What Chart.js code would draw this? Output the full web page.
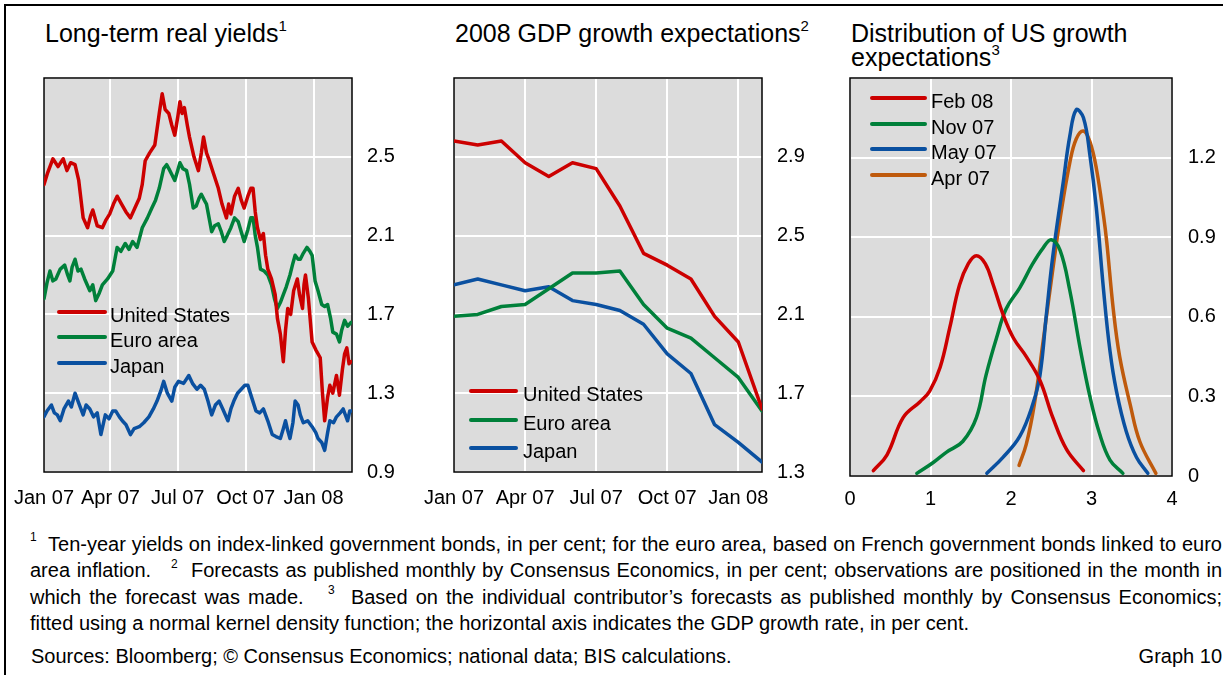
<!DOCTYPE html>
<html>
<head>
<meta charset="utf-8">
<script src="https://cdn.jsdelivr.net/npm/chart.js@4/dist/chart.umd.min.js"></script>
<style>
    body { margin: 0; background: #fff; font-family: Arial, "Liberation Sans", sans-serif; color: #000; }
    #page { position: relative; width: 1224px; height: 675px; overflow: hidden; }
    .rule { position: absolute; background: #000; }
    .title { position: absolute; font-size: 25px; line-height: 24px; white-space: nowrap; }
    .title sup, .notes sup { font-size: 60%; position: relative; top: -2px; vertical-align: super; line-height: 0; }
    canvas { position: absolute; top: 0; }
    .legend-row { position: absolute; height: 20px; font-size: 20px; line-height: 20px; white-space: nowrap; }
    .legend-row span.swatch { position: absolute; top: 5px; height: 4px; border-radius: 2px; }
    .legend-row span.label { position: absolute; top: 0; }
    .notes { position: absolute; left: 30px; width: 1192px; top: 531px; font-size: 20px; line-height: 26.3px; }
    .notes div { white-space: nowrap; text-align: justify; text-align-last: justify; }
    .notes div.last { text-align-last: left; }
    .sources { position: absolute; left: 31px; width: 1191px; top: 646px; font-size: 20px; line-height: 20px; }
</style>
</head>
<body>
<div id="page">
    <div class="rule" style="left:4px; top:4px; width:2px; height:671px;"></div>
    <div class="rule" style="left:4px; top:4px; width:1219px; height:2px;"></div>

    <div class="title" style="left:45px; top:21px;">Long-term real yields<sup>1</sup></div>
    <div class="title" style="left:455px; top:21px;">2008 GDP growth expectations<sup>2</sup></div>
    <div class="title" style="left:851px; top:21px;">Distribution of US growth<br>expectations<sup>3</sup></div>

    <canvas id="yieldsChart" width="410" height="520" style="left:0px;"></canvas>
    <canvas id="gdpChart" width="410" height="520" style="left:410px;"></canvas>
    <canvas id="distChart" width="404" height="520" style="left:820px;"></canvas>

    <div id="legends"></div>

    <div class="notes">
        <div><sup>1</sup>&nbsp; Ten-year yields on index-linked government bonds, in per cent; for the euro area, based on French government bonds linked to euro</div>
        <div>area inflation. &nbsp; <sup>2</sup>&nbsp; Forecasts as published monthly by Consensus Economics, in per cent; observations are positioned in the month in</div>
        <div>which the forecast was made. &nbsp; <sup>3</sup>&nbsp; Based on the individual contributor’s forecasts as published monthly by Consensus Economics;</div>
        <div class="last">fitted using a normal kernel density function; the horizontal axis indicates the GDP growth rate, in per cent.</div>
    </div>
    <div class="sources">Sources: Bloomberg; © Consensus Economics; national data; BIS calculations.<span style="float:right;">Graph 10</span></div>
</div>

<script>
// Panel 1: long-term real yields (days since 1 Jan 2007)
const usDays = [0, 5, 12, 19, 26, 31, 36, 42, 47, 53, 59, 63, 66, 72, 79, 84, 89, 94, 99, 105, 111, 117, 123, 129, 133, 137, 143, 150, 156, 160, 164, 169, 173, 177, 181, 184, 187, 190, 194, 197, 203, 209, 213, 216, 220, 223, 229, 236, 241, 247, 250, 253, 258, 263, 267, 271, 276, 280, 283, 286, 289, 293, 297, 300, 303, 308, 313, 316, 320, 324, 327, 330, 334, 338, 343, 346, 350, 352, 354, 358, 363, 368, 374, 377, 380, 384, 387, 391, 396, 400, 404, 407, 410, 413, 416];
const usYield = [2.36, 2.42, 2.49, 2.45, 2.49, 2.43, 2.47, 2.46, 2.38, 2.19, 2.14, 2.20, 2.23, 2.15, 2.14, 2.18, 2.21, 2.26, 2.30, 2.26, 2.22, 2.19, 2.24, 2.29, 2.36, 2.48, 2.52, 2.56, 2.72, 2.82, 2.74, 2.72, 2.66, 2.61, 2.70, 2.78, 2.72, 2.75, 2.66, 2.60, 2.50, 2.43, 2.52, 2.60, 2.52, 2.49, 2.42, 2.34, 2.26, 2.19, 2.26, 2.21, 2.30, 2.34, 2.28, 2.24, 2.30, 2.34, 2.34, 2.22, 2.14, 2.08, 2.11, 2.00, 1.93, 1.88, 1.80, 1.68, 1.60, 1.46, 1.62, 1.73, 1.70, 1.82, 1.88, 1.80, 1.73, 1.85, 1.90, 1.78, 1.56, 1.52, 1.48, 1.30, 1.16, 1.28, 1.34, 1.30, 1.39, 1.29, 1.42, 1.50, 1.53, 1.45, 1.46];

const euroDays = [0, 4, 8, 12, 16, 22, 28, 32, 35, 38, 42, 46, 50, 55, 62, 66, 70, 75, 79, 86, 93, 96, 99, 104, 110, 115, 120, 126, 133, 140, 146, 151, 156, 162, 166, 169, 173, 177, 181, 184, 188, 193, 197, 202, 206, 210, 213, 217, 220, 224, 227, 231, 236, 240, 244, 248, 253, 258, 263, 267, 271, 276, 280, 283, 286, 289, 293, 298, 303, 308, 312, 316, 320, 324, 328, 333, 337, 340, 344, 347, 351, 356, 360, 363, 367, 371, 376, 380, 384, 388, 391, 396, 400, 403, 407, 411, 416];
const euroYield = [1.78, 1.86, 1.92, 1.87, 1.88, 1.93, 1.95, 1.90, 1.87, 1.94, 1.98, 1.92, 1.93, 1.88, 1.82, 1.85, 1.77, 1.81, 1.85, 1.88, 1.92, 1.98, 2.04, 2.02, 2.06, 2.03, 2.07, 2.04, 2.14, 2.19, 2.24, 2.28, 2.34, 2.44, 2.46, 2.44, 2.41, 2.38, 2.43, 2.47, 2.44, 2.43, 2.36, 2.24, 2.25, 2.29, 2.31, 2.28, 2.26, 2.18, 2.12, 2.15, 2.16, 2.12, 2.07, 2.10, 2.14, 2.19, 2.17, 2.12, 2.07, 2.13, 2.19, 2.19, 2.10, 2.04, 1.93, 1.92, 1.90, 1.85, 1.78, 1.73, 1.76, 1.80, 1.84, 1.90, 1.96, 2.00, 1.98, 1.98, 2.01, 2.04, 2.02, 2.00, 1.87, 1.82, 1.75, 1.74, 1.75, 1.68, 1.61, 1.60, 1.56, 1.62, 1.67, 1.64, 1.66];

const japanDays = [0, 4, 10, 14, 18, 22, 27, 33, 37, 42, 47, 53, 57, 62, 67, 72, 77, 83, 88, 93, 97, 102, 106, 111, 117, 122, 129, 135, 142, 148, 153, 158, 162, 167, 173, 177, 182, 189, 196, 201, 207, 212, 217, 222, 227, 232, 237, 242, 249, 253, 257, 262, 267, 272, 276, 281, 287, 292, 297, 303, 309, 314, 320, 324, 327, 330, 333, 337, 340, 344, 347, 351, 357, 363, 368, 371, 376, 380, 384, 387, 392, 396, 401, 405, 408, 411, 414, 416];
const japanYield = [1.18, 1.21, 1.24, 1.20, 1.19, 1.16, 1.22, 1.26, 1.23, 1.30, 1.25, 1.19, 1.24, 1.22, 1.18, 1.20, 1.09, 1.19, 1.17, 1.21, 1.21, 1.18, 1.16, 1.14, 1.09, 1.12, 1.13, 1.15, 1.18, 1.22, 1.26, 1.31, 1.36, 1.30, 1.26, 1.33, 1.36, 1.35, 1.39, 1.35, 1.32, 1.34, 1.32, 1.26, 1.19, 1.24, 1.26, 1.22, 1.16, 1.22, 1.26, 1.30, 1.32, 1.34, 1.34, 1.28, 1.21, 1.20, 1.22, 1.16, 1.09, 1.08, 1.07, 1.12, 1.16, 1.11, 1.07, 1.15, 1.26, 1.24, 1.19, 1.15, 1.16, 1.13, 1.10, 1.07, 1.05, 1.01, 1.10, 1.16, 1.15, 1.18, 1.20, 1.22, 1.19, 1.16, 1.21, 1.21];

const yieldTicks = [0.9, 1.3, 1.7, 2.1, 2.5, 2.9];
const dateTicks = [0, 90, 181, 273, 365];
const dateLabels = ['Jan 07', 'Apr 07', 'Jul 07', 'Oct 07', 'Jan 08'];

// Panel 2: 2008 GDP growth expectations, monthly Jan 07 .. Feb 08
const months = [0, 1, 2, 3, 4, 5, 6, 7, 8, 9, 10, 11, 12, 13];
const usGdp = [2.98, 2.96, 2.98, 2.87, 2.80, 2.87, 2.84, 2.65, 2.41, 2.35, 2.28, 2.09, 1.96, 1.62];
const euroGdp = [2.09, 2.10, 2.14, 2.15, 2.23, 2.31, 2.31, 2.32, 2.15, 2.03, 1.98, 1.88, 1.78, 1.61];
const japanGdp = [2.25, 2.28, 2.25, 2.22, 2.24, 2.17, 2.15, 2.12, 2.05, 1.90, 1.80, 1.54, 1.45, 1.35];
const gdpTicks = [1.3, 1.7, 2.1, 2.5, 2.9, 3.3];
const monthTicks = [0, 3, 6, 9, 12];

// Panel 3: kernel densities of US growth forecasts
const feb08X = [0.29, 0.46, 0.66, 0.87, 0.99, 1.12, 1.24, 1.36, 1.47, 1.57, 1.68, 1.78, 1.90, 2.03, 2.19, 2.36, 2.52, 2.69, 2.90];
const feb08Y = [0.02, 0.08, 0.22, 0.28, 0.32, 0.41, 0.56, 0.72, 0.80, 0.83, 0.80, 0.72, 0.61, 0.52, 0.45, 0.36, 0.22, 0.10, 0.02];
const nov07X = [0.83, 1.03, 1.20, 1.40, 1.57, 1.69, 1.82, 1.94, 2.11, 2.27, 2.40, 2.50, 2.61, 2.73, 2.86, 2.98, 3.10, 3.23, 3.39];
const nov07Y = [0.01, 0.05, 0.09, 0.13, 0.22, 0.38, 0.52, 0.63, 0.71, 0.80, 0.86, 0.89, 0.85, 0.70, 0.48, 0.30, 0.16, 0.06, 0.01];
const may07X = [1.70, 1.90, 2.11, 2.27, 2.36, 2.44, 2.52, 2.65, 2.73, 2.81, 2.90, 2.98, 3.06, 3.15, 3.23, 3.31, 3.43, 3.56, 3.70];
const may07Y = [0.01, 0.07, 0.15, 0.27, 0.38, 0.61, 0.83, 1.11, 1.28, 1.38, 1.35, 1.21, 1.01, 0.70, 0.47, 0.32, 0.17, 0.07, 0.01];
const apr07X = [2.10, 2.19, 2.29, 2.40, 2.52, 2.61, 2.73, 2.81, 2.90, 2.98, 3.06, 3.15, 3.19, 3.27, 3.35, 3.48, 3.60, 3.80];
const apr07Y = [0.04, 0.12, 0.27, 0.51, 0.78, 0.97, 1.18, 1.27, 1.30, 1.26, 1.16, 0.98, 0.88, 0.63, 0.45, 0.27, 0.13, 0.01];
const densityTicks = [0, 0.3, 0.6, 0.9, 1.2, 1.5];
const growthTicks = [0, 1, 2, 3, 4];

const RED = '#cc0000';
const GREEN = '#00803a';
const BLUE = '#0a50a0';
const ORANGE = '#bf5a0c';

Chart.defaults.font.family = 'Arial, "Liberation Sans", sans-serif';
Chart.defaults.font.size = 20;
Chart.defaults.color = '#000';

// Grey plot background and black frame
const plotFrame = {
    id: 'plotFrame',
    beforeDraw(chart) {
        const { ctx, chartArea: a } = chart;
        ctx.save();
        ctx.fillStyle = '#dcdcdc';
        ctx.fillRect(a.left, a.top, a.right - a.left, a.bottom - a.top);
        ctx.restore();
    },
    beforeDatasetsDraw(chart) {
        const { ctx, chartArea: a } = chart;
        ctx.save();
        ctx.strokeStyle = '#000';
        ctx.lineWidth = 1.5;
        ctx.strokeRect(a.left, a.top, a.right - a.left, a.bottom - a.top);
        ctx.restore();
    }
};

function toPoints(xs, ys) {
    return xs.map((x, i) => ({ x: x, y: ys[i] }));
}

function lineSet(label, xs, ys, color, tension) {
    return {
        label: label,
        data: toPoints(xs, ys),
        borderColor: color,
        borderWidth: 3.5,
        borderCapStyle: 'round',
        borderJoinStyle: 'round',
        pointRadius: 0,
        tension: tension || 0
    };
}

// Builds one panel; plot area placed with padding and fixed axis sizes
function renderPanel(id, datasets, opts) {
    const ctx = document.getElementById(id).getContext('2d');
    return new Chart(ctx, {
        type: 'line',
        data: { datasets: datasets },
        options: {
            responsive: false,
            animation: false,
            devicePixelRatio: 1,
            layout: { padding: { left: opts.padLeft, top: 78, right: 0, bottom: 0 } },
            plugins: { legend: { display: false }, tooltip: { enabled: false } },
            scales: {
                x: {
                    type: 'linear',
                    min: opts.xMin,
                    max: opts.xMax,
                    afterBuildTicks: (scale) => { scale.ticks = opts.xTicks.map(v => ({ value: v })); },
                    afterFit: (scale) => { scale.height = opts.xHeight; },
                    ticks: {
                        autoSkip: false,
                        maxRotation: 0,
                        padding: opts.xPad,
                        callback: (v, i) => opts.xLabels[i]
                    },
                    grid: { color: '#fff', lineWidth: 2, drawTicks: false },
                    border: { display: false }
                },
                y: {
                    position: 'right',
                    min: opts.yTicks[0],
                    max: opts.yTicks[opts.yTicks.length - 1],
                    afterBuildTicks: (scale) => { scale.ticks = opts.yTicks.map(v => ({ value: v })); },
                    afterFit: (scale) => { scale.width = opts.yWidth; },
                    ticks: {
                        padding: opts.yPad,
                        callback: (v, i) => i === opts.yTicks.length - 1 ? '' : (v === 0 ? '0' : v.toFixed(1))
                    },
                    grid: { color: '#fff', lineWidth: 2, drawTicks: false },
                    border: { display: false }
                }
            }
        },
        plugins: [plotFrame]
    });
}

// HTML legend rows inside the plot areas
function addLegend(items, swatchLeft, swatchWidth, textLeft, rowYs) {
    const box = document.getElementById('legends');
    items.forEach((item, i) => {
        const row = document.createElement('div');
        row.className = 'legend-row';
        row.style.left = swatchLeft + 'px';
        row.style.top = (rowYs[i] - 7) + 'px';
        row.innerHTML = '<span class="swatch" style="left:0;width:' + swatchWidth + 'px;background:' + item[1] + '"></span>' +
            '<span class="label" style="left:' + (textLeft - swatchLeft) + 'px">' + item[0] + '</span>';
        box.appendChild(row);
    });
}

renderPanel('yieldsChart', [
    lineSet('United States', usDays, usYield, RED),
    lineSet('Euro area', euroDays, euroYield, GREEN),
    lineSet('Japan', japanDays, japanYield, BLUE)
], {
    padLeft: 41, xMin: 0, xMax: 417, xTicks: dateTicks, xLabels: dateLabels, xHeight: 48, xPad: 14,
    yTicks: yieldTicks, yWidth: 58, yPad: 15
});

renderPanel('gdpChart', [
    lineSet('United States', months, usGdp, RED),
    lineSet('Euro area', months, euroGdp, GREEN),
    lineSet('Japan', months, japanGdp, BLUE)
], {
    padLeft: 41, xMin: 0, xMax: 13, xTicks: monthTicks, xLabels: dateLabels, xHeight: 48, xPad: 14,
    yTicks: gdpTicks, yWidth: 58, yPad: 15
});

renderPanel('distChart', [
    lineSet('Feb 08', feb08X, feb08Y, RED, 0.4),
    lineSet('Nov 07', nov07X, nov07Y, GREEN, 0.4),
    lineSet('May 07', may07X, may07Y, BLUE, 0.4),
    lineSet('Apr 07', apr07X, apr07Y, ORANGE, 0.4)
], {
    padLeft: 30, xMin: 0, xMax: 4, xTicks: growthTicks, xLabels: growthTicks.map(String), xHeight: 44, xPad: 11,
    yTicks: densityTicks, yWidth: 52, yPad: 16
});

const countries = [['United States', RED], ['Euro area', GREEN], ['Japan', BLUE]];
addLegend(countries, 57, 50, 110, [312, 337, 363]);
addLegend(countries, 469, 49, 523, [391, 420, 448]);
addLegend([['Feb 08', RED], ['Nov 07', GREEN], ['May 07', BLUE], ['Apr 07', ORANGE]], 870, 57, 931, [98, 124, 149, 175]);
</script>
</body>
</html>
